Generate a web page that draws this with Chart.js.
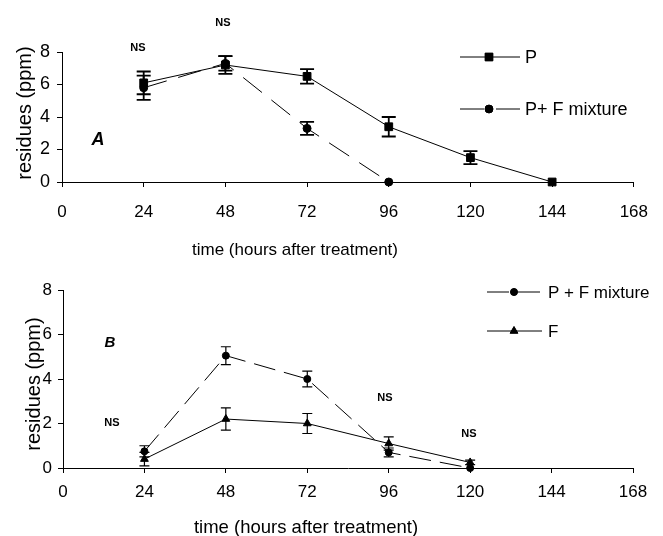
<!DOCTYPE html>
<html>
<head>
<meta charset="utf-8">
<script src="https://cdn.jsdelivr.net/npm/chart.js@4.4.1/dist/chart.umd.min.js"></script>
<style>
  body { margin: 0; background: #fff; width: 663px; height: 536px; position: relative; overflow: hidden; font-family: "Liberation Sans", Arial, sans-serif; color: #000; }
  .panel { position: absolute; left: 0; width: 663px; }
  #panelA { top: 0; height: 270px; }
  #panelB { top: 270px; height: 266px; }
  .note { position: absolute; font-weight: bold; font-size: 11px; transform: translate(-50%, -50%); }
  .tag { position: absolute; font-weight: bold; font-style: italic; transform: translate(-50%, -50%); }
  .xtitle { position: absolute; white-space: nowrap; transform: translate(-50%, -50%); }
  .ytitle { position: absolute; white-space: nowrap; transform: translate(-50%, -50%) rotate(-90deg); }
</style>
</head>
<body>
<div class="panel" id="panelA"><canvas id="chartA"></canvas></div>
<div class="panel" id="panelB"><canvas id="chartB"></canvas></div>

<div class="ytitle" style="left:24px; top:113px; font-size:20px;">residues (ppm)</div>
<div class="xtitle" style="left:295px; top:250px; font-size:17px;">time (hours after treatment)</div>
<div class="note" style="left:138px; top:47px;">NS</div>
<div class="note" style="left:223px; top:22px;">NS</div>
<div class="tag" style="left:98px; top:139px; font-size:18px;">A</div>

<div class="ytitle" style="left:33px; top:384px; font-size:20px;">residues (ppm)</div>
<div class="xtitle" style="left:306px; top:527px; font-size:18.5px;">time (hours after treatment)</div>
<div class="tag" style="left:110px; top:341px; font-size:15px;">B</div>
<div class="note" style="left:112px; top:422px;">NS</div>
<div class="note" style="left:385px; top:397px;">NS</div>
<div class="note" style="left:469px; top:433px;">NS</div>

<script>
// Panel A values (ppm) and standard errors
const hoursA = [24, 48, 72, 96, 120, 144];
const pA = [6.1, 7.2, 6.5, 3.4, 1.5, 0];
const pAErr = [0.7, 0.55, 0.45, 0.6, 0.4, 0];
const mixA = [5.8, 7.3, 3.3, 0, null, null];
const mixAErr = [0.75, 0.45, 0.4, 0, 0, 0];

// Panel B values (ppm) and standard errors
const hoursB = [24, 48, 72, 96, 120];
const mixB = [0.75, 5.05, 4.0, 0.7, 0];
const mixBErr = [0.25, 0.4, 0.35, 0.2, 0];
const fB = [0.4, 2.2, 2.0, 1.1, 0.25];
const fBErr = [0.3, 0.5, 0.45, 0.3, 0.1];

const xTickLabels = [0, 24, 48, 72, 96, 120, 144, 168];
const yTickLabels = [0, 2, 4, 6, 8];

function points(xs, ys) {
  return xs.map((x, i) => ({ x: x, y: ys[i] })).filter((p) => p.y != null);
}

// error bars drawn through the chart's scales
const errorBars = {
  id: "errorBars",
  afterDatasetsDraw(chart, args, opts) {
    const { ctx } = chart;
    const xs = chart.scales.x;
    const ys = chart.scales.y;
    ctx.save();
    ctx.strokeStyle = "#000";
    ctx.lineWidth = opts.width;
    ctx.setLineDash([]);
    chart.data.datasets.forEach((ds) => {
      ds.data.forEach((pt, i) => {
        const e = ds.errors[i];
        if (!e) return;
        const px = xs.getPixelForValue(pt.x);
        const top = ys.getPixelForValue(pt.y + e);
        const bot = ys.getPixelForValue(pt.y - e);
        ctx.beginPath();
        ctx.moveTo(px, top);
        ctx.lineTo(px, bot);
        ctx.moveTo(px - opts.cap, top);
        ctx.lineTo(px + opts.cap, top);
        ctx.moveTo(px - opts.cap, bot);
        ctx.lineTo(px + opts.cap, bot);
        ctx.stroke();
      });
    });
    ctx.restore();
  },
};

// legend as line - marker - line samples
const sampleLegend = {
  id: "sampleLegend",
  afterDraw(chart, args, opts) {
    const { ctx } = chart;
    ctx.save();
    chart.data.datasets.forEach((ds, i) => {
      const y = opts.rows[i];
      ctx.strokeStyle = "#000";
      ctx.lineWidth = 1;
      ctx.setLineDash(ds.borderDash || []);
      ctx.beginPath();
      ctx.moveTo(opts.x0, y);
      ctx.lineTo(opts.x1, y);
      ctx.stroke();
      ctx.setLineDash([]);
      Chart.helpers.drawPoint(ctx, { pointStyle: ds.pointStyle, radius: ds.pointRadius, borderWidth: 1 }, opts.mx, y);
      ctx.fillStyle = "#000";
      ctx.fill();
      ctx.font = opts.font;
      ctx.textBaseline = "middle";
      ctx.fillText(ds.label, opts.tx, y + 1);
    });
    ctx.restore();
  },
};

function axes(cfg) {
  return {
    x: {
      type: "linear",
      min: 0,
      max: 168,
      afterBuildTicks: (s) => { s.ticks = xTickLabels.map((v) => ({ value: v })); },
      afterFit: (s) => { s.height = cfg.xHeight; },
      border: { color: "#000", width: 1 },
      grid: { drawOnChartArea: false, drawTicks: true, tickLength: 5, color: "#000" },
      ticks: { color: "#000", font: { size: cfg.tickSize, family: cfg.family }, padding: cfg.xPad, maxRotation: 0 },
    },
    y: {
      min: 0,
      max: 8,
      afterBuildTicks: (s) => { s.ticks = yTickLabels.map((v) => ({ value: v })); },
      afterFit: (s) => { s.width = cfg.yWidth; },
      border: { color: "#000", width: 1 },
      grid: { drawOnChartArea: false, drawTicks: true, tickLength: 5, color: "#000" },
      ticks: { color: "#000", font: { size: cfg.yTickSize, family: cfg.family }, padding: cfg.yPad },
    },
  };
}

const family = "'Liberation Sans', Arial, sans-serif";

new Chart(document.getElementById("chartA"), {
  type: "line",
  data: {
    datasets: [
      {
        label: "P",
        data: points(hoursA, pA),
        errors: pAErr,
        borderColor: "#000",
        backgroundColor: "#000",
        borderWidth: 1,
        pointStyle: "rect",
        pointRadius: 5.5,
        tension: 0,
        clip: false,
      },
      {
        label: "P+ F mixture",
        data: points(hoursA, mixA),
        errors: mixAErr,
        borderColor: "#000",
        backgroundColor: "#000",
        borderWidth: 1,
        borderDash: [24, 12],
        pointStyle: "circle",
        pointRadius: 4,
        tension: 0,
        clip: false,
      },
    ],
  },
  options: {
    responsive: true,
    maintainAspectRatio: false,
    animation: false,
    layout: { padding: { top: 52, right: 18, left: 0, bottom: 0 } },
    plugins: {
      legend: { display: false },
      tooltip: { enabled: false },
      errorBars: { width: 1.8, cap: 7 },
      sampleLegend: { x0: 460, x1: 520, mx: 489, tx: 525, rows: [57, 109], font: "18px " + family },
    },
    scales: axes({ family: family, tickSize: 17, yTickSize: 18, xHeight: 88, xPad: 15, yWidth: 62, yPad: 7 }),
  },
  plugins: [errorBars, sampleLegend],
});

new Chart(document.getElementById("chartB"), {
  type: "line",
  data: {
    datasets: [
      {
        label: "P + F mixture",
        data: points(hoursB, mixB),
        errors: mixBErr,
        borderColor: "#000",
        backgroundColor: "#000",
        borderWidth: 1,
        borderDash: [22, 9],
        pointStyle: "circle",
        pointRadius: 3.5,
        tension: 0,
        clip: false,
      },
      {
        label: "F",
        data: points(hoursB, fB),
        errors: fBErr,
        borderColor: "#000",
        backgroundColor: "#000",
        borderWidth: 1,
        pointStyle: "triangle",
        pointRadius: 4.5,
        tension: 0,
        clip: false,
      },
    ],
  },
  options: {
    responsive: true,
    maintainAspectRatio: false,
    animation: false,
    layout: { padding: { top: 20, right: 30, left: 0, bottom: 0 } },
    plugins: {
      legend: { display: false },
      tooltip: { enabled: false },
      errorBars: { width: 1.2, cap: 5 },
      sampleLegend: { x0: 487, x1: 542, mx: 514, tx: 548, rows: [22, 61], font: "17px " + family },
    },
    scales: axes({ family: family, tickSize: 17, yTickSize: 17, xHeight: 68, xPad: 9, yWidth: 63, yPad: 6 }),
  },
  plugins: [errorBars, sampleLegend],
});
</script>
</body>
</html>
